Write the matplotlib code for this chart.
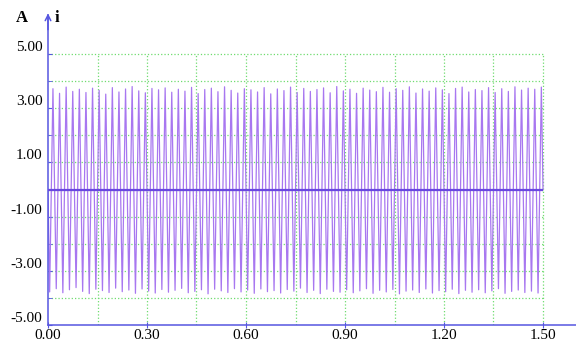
import matplotlib.pyplot as plt
import matplotlib.transforms as mtransforms
import numpy as np

# peak / trough values of the current waveform (A)
peaks = [3.72, 3.55, 3.78, 3.62, 3.70, 3.58, 3.74, 3.66, 3.52, 3.76, 3.60, 3.71, 3.80, 3.64, 3.57,
         3.73, 3.68, 3.75, 3.59, 3.70, 3.63, 3.77, 3.54, 3.69, 3.74, 3.61, 3.79, 3.66, 3.56, 3.72,
         3.68, 3.60, 3.76, 3.53, 3.71, 3.65, 3.78, 3.58, 3.73, 3.62, 3.69, 3.75, 3.57, 3.80, 3.64,
         3.70, 3.55, 3.74, 3.67, 3.61, 3.77, 3.59, 3.72, 3.66, 3.79, 3.56, 3.71, 3.63, 3.75, 3.68,
         3.54, 3.73, 3.78, 3.60, 3.69, 3.65, 3.76, 3.58, 3.72, 3.62, 3.79, 3.67, 3.74, 3.70, 3.78]
troughs = [-3.78, -3.66, -3.81, -3.70, -3.62, -3.76, -3.84, -3.68, -3.73, -3.80, -3.64, -3.77, -3.71, -3.83, -3.67,
           -3.75, -3.82, -3.69, -3.79, -3.72, -3.65, -3.81, -3.76, -3.70, -3.85, -3.68, -3.74, -3.80, -3.66, -3.78,
           -3.71, -3.83, -3.67, -3.77, -3.73, -3.82, -3.69, -3.75, -3.64, -3.80, -3.72, -3.84, -3.68, -3.76, -3.79,
           -3.70, -3.81, -3.74, -3.66, -3.83, -3.72, -3.78, -3.69, -3.85, -3.75, -3.71, -3.80, -3.67, -3.82, -3.73,
           -3.77, -3.68, -3.84, -3.72, -3.79, -3.70, -3.81, -3.74, -3.66, -3.83, -3.76, -3.71, -3.80, -3.75, -3.82]
t_trough = np.arange(75) * 0.02 + 0.005   # 50 Hz, 1.5 s
t_peak = t_trough + 0.01
t_start, i_start = 0.0, 0.0
t_end, i_end = 1.5, 0.0

xticks = [0.0, 0.3, 0.6, 0.9, 1.2, 1.5]
xlabels = ['0.00', '0.30', '0.60', '0.90', '1.20', '1.50']
yticks = [5, 3, 1, -1, -3, -5]
ylabels = ['5.00', '3.00', '1.00', '-1.00', '-3.00', '-5.00']

t = np.empty(2 * 75 + 2)
i = np.empty(2 * 75 + 2)
t[0], i[0] = t_start, i_start
t[1:-1:2], i[1:-1:2] = t_trough, troughs
t[2:-1:2], i[2:-1:2] = t_peak, peaks
t[-1], i[-1] = t_end, i_end

axcol = '#5656e0'
gridcol = '#6fdc6f'

fig = plt.figure(figsize=(5.76, 3.44), dpi=100)
ax = fig.add_axes([48/576, 19/344, 528/576, 310/344])
ax.set_xlim(0, 1.6)
ax.set_ylim(-5, 6.44)

# dotted grid, only inside the 0..1.5 / -5..5 box
ax.vlines(np.arange(1, 11) * 0.15, -5, 5, colors=gridcol, linestyles=':', lw=0.9, zorder=1)
ax.hlines(np.arange(-4, 6), 0, 1.5, colors=gridcol, linestyles=':', lw=0.9, zorder=1)

ax.plot(t, i, color='#a877f0', lw=0.9, zorder=2)
ax.hlines(0, 0, 1.5, colors='#6a48e0', lw=1.6, zorder=3)

for s in ['top', 'right']:
    ax.spines[s].set_visible(False)
for s in ['left', 'bottom']:
    ax.spines[s].set_color(axcol)
    ax.spines[s].set_linewidth(1.1)
ax.annotate('', xy=(0, 6.5), xytext=(0, 5.9),
            arrowprops=dict(arrowstyle='->', color=axcol, lw=1.1, shrinkA=0, shrinkB=0),
            annotation_clip=False)

fnt = dict(family='Liberation Serif', size=11)
ax.set_xticks(xticks)
ax.set_xticklabels(xlabels, **fnt)
ax.set_yticks(yticks)
ax.set_yticklabels(ylabels, **fnt)
ax.set_yticks(range(-5, 6), minor=True)
ax.tick_params(axis='x', direction='inout', length=4, color=axcol, pad=1)
ax.tick_params(axis='y', which='both', direction='in', length=3, color=axcol, pad=4)
off = mtransforms.ScaledTranslation(0, 8/100, fig.dpi_scale_trans)
for lab in ax.get_yticklabels():
    lab.set_transform(lab.get_transform() + off)

fig.text(22/576, 1 - 18/344, 'A', family='Liberation Serif', weight='bold', size=12,
         ha='center', va='center')
fig.text(57/576, 1 - 18/344, 'i', family='Liberation Serif', weight='bold', size=12,
         ha='center', va='center')

fig.savefig('out.png', dpi=100)
